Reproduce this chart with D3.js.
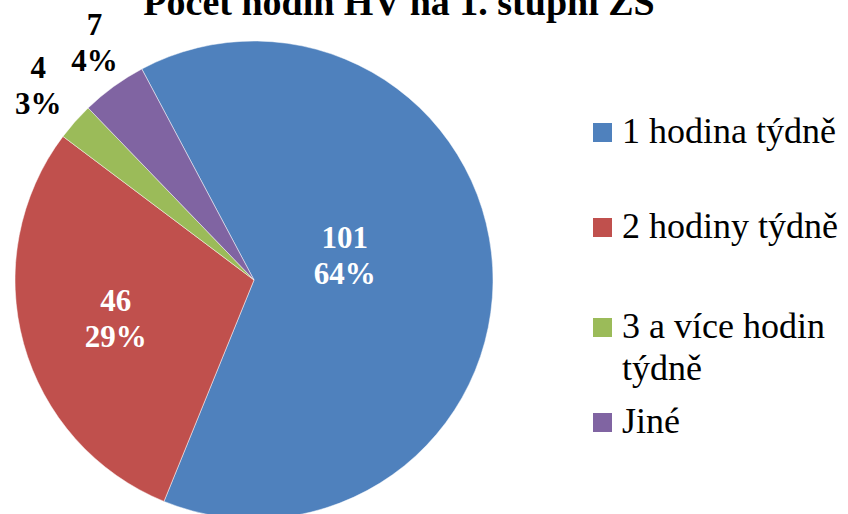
<!DOCTYPE html>
<html>
<head>
<meta charset="utf-8">
<script src="https://cdn.jsdelivr.net/npm/d3@7"></script>
<style>
  body { margin: 0; background: #fff; }
  svg { display: block; }
</style>
</head>
<body>
<div id="viz"></div>
<script>
const categories = ["1 hodina týdně", "2 hodiny týdně", "3 a více hodin týdně", "Jiné"];
const values = [101, 46, 4, 7];
const percents = ["64%", "29%", "3%", "4%"];
const legendLines = [["1 hodina týdně"], ["2 hodiny týdně"], ["3 a více hodin", "týdně"], ["Jiné"]];
const colors = ["#4F81BD", "#C0504D", "#9BBB59", "#8064A2"];

const width = 848, height = 514;
const cx = 254, cy = 280, radius = 239;
const startDeg = -28;

// label placement (fraction of radius, nudge) per slice
const labelRadius = [0.38, 0.6, 1.2, 1.2];
const labelNudge = [[0, -19], [0, 1], [-1, -4], [9, -5]];

const svg = d3.select("#viz").append("svg")
    .attr("width", width)
    .attr("height", height)
    .style("font-family", "'Liberation Serif', 'Times New Roman', serif");

// title (cut at the top like the original)
svg.append("text")
    .attr("x", 399)
    .attr("y", 15)
    .attr("text-anchor", "middle")
    .attr("font-size", 38)
    .attr("font-weight", "bold")
    .text("Počet hodin HV na 1. stupni ZŠ");

const data = categories.map((c, i) => ({ name: c, value: values[i], pct: percents[i], color: colors[i], i }));

const pie = d3.pie()
    .value(d => d.value)
    .sort(null)
    .startAngle(startDeg * Math.PI / 180)
    .endAngle(startDeg * Math.PI / 180 + 2 * Math.PI);

const arcs = pie(data);
const arc = d3.arc().innerRadius(0).outerRadius(radius);

const g = svg.append("g").attr("transform", `translate(${cx},${cy})`);

g.selectAll("path")
    .data(arcs)
    .join("path")
    .attr("d", arc)
    .attr("fill", d => d.data.color)
    .attr("stroke", "#fff")
    .attr("stroke-opacity", 0.6)
    .attr("stroke-width", 0.8);

// data labels: inside for big slices, outside for small ones
const labels = g.selectAll("g.label")
    .data(arcs)
    .join("g")
    .attr("class", "label")
    .attr("transform", d => {
        const r = radius * labelRadius[d.data.i];
        const [x, y] = d3.arc().innerRadius(r).outerRadius(r).centroid(d);
        const [dx, dy] = labelNudge[d.data.i];
        return `translate(${x + dx},${y + dy})`;
    });

labels.each(function (d) {
    const outside = labelRadius[d.data.i] > 1;
    const t = d3.select(this).append("text")
        .attr("text-anchor", "middle")
        .attr("font-size", 31)
        .attr("font-weight", "bold")
        .attr("fill", outside ? "#000" : "#fff");
    t.append("tspan").attr("x", 0).attr("y", -8).text(d.data.value);
    t.append("tspan").attr("x", 0).attr("y", 28).text(d.data.pct);
});

// legend
const legendY = [143, 238, 338, 433];
const legend = svg.append("g").attr("transform", "translate(593,0)");

legend.selectAll("rect")
    .data(data)
    .join("rect")
    .attr("x", 0)
    .attr("y", (d, i) => legendY[i] - 20)
    .attr("width", 19)
    .attr("height", 19)
    .attr("fill", d => d.color);

legend.selectAll("text")
    .data(legendLines)
    .join("text")
    .attr("font-size", 36)
    .attr("fill", "#000")
    .each(function (lines, i) {
        lines.forEach((l, j) => {
            d3.select(this).append("tspan")
                .attr("x", 29)
                .attr("y", legendY[i] + j * 42)
                .text(l);
        });
    });
</script>
</body>
</html>
